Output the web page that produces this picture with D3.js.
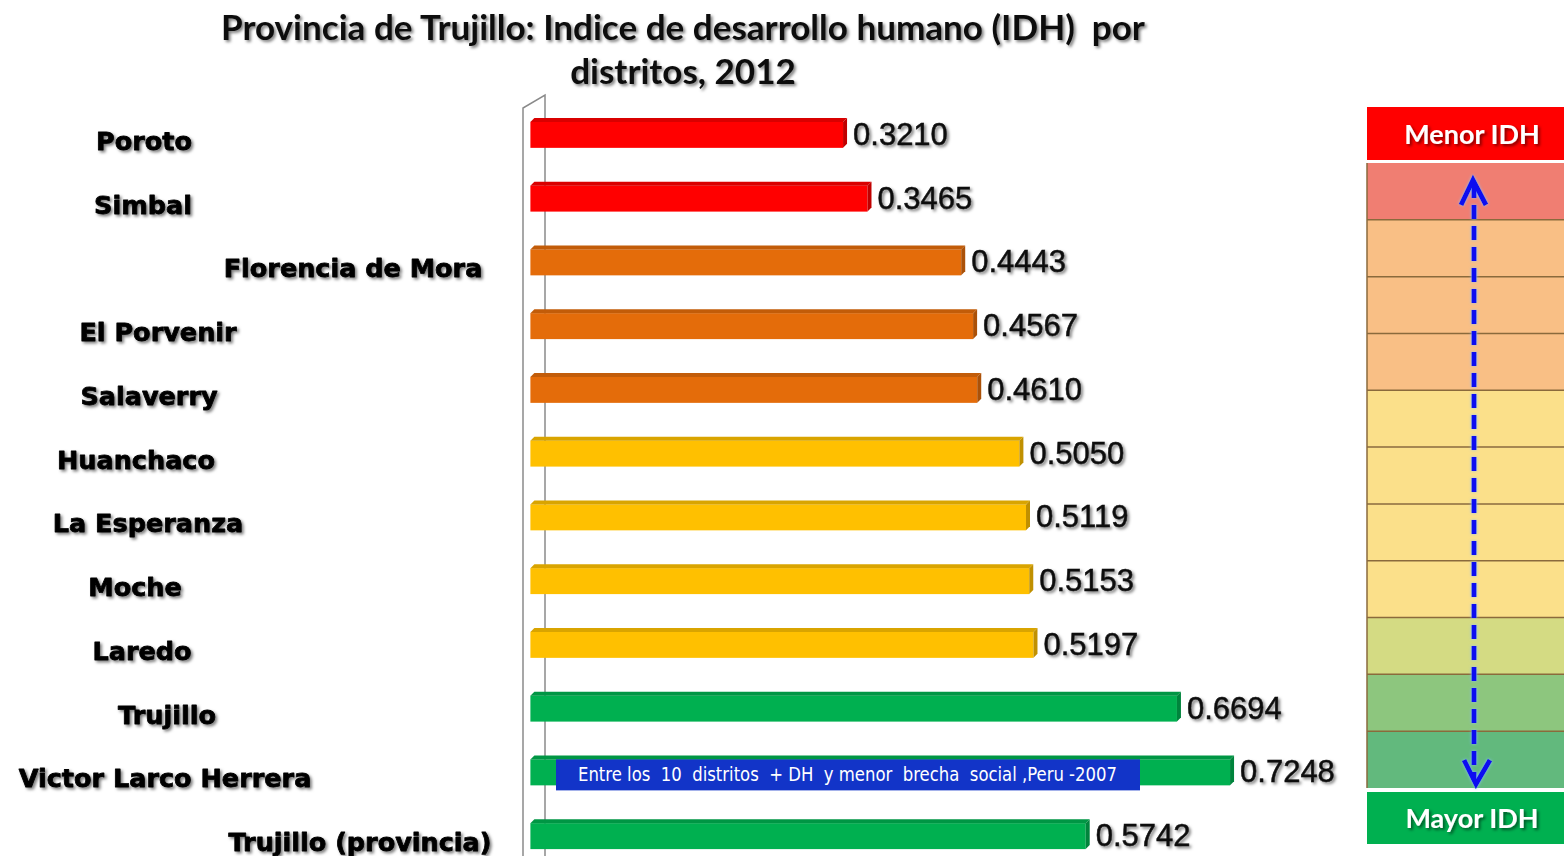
<!DOCTYPE html>
<html>
<head>
<meta charset="utf-8">
<script src="https://cdn.jsdelivr.net/npm/d3@7"></script>
<style>
  html, body { margin: 0; padding: 0; background: #fff; }
  svg { display: block; }
  text { white-space: pre; }
</style>
</head>
<body>
<svg id="chart" width="1564" height="856"></svg>
<script>
// ---------------- DATA ----------------
const districts = ["Poroto", "Simbal", "Florencia de Mora", "El Porvenir", "Salaverry",
  "Huanchaco", "La Esperanza", "Moche", "Laredo", "Trujillo",
  "Victor Larco Herrera", "Trujillo (provincia)"];
const idh = [0.3210, 0.3465, 0.4443, 0.4567, 0.4610, 0.5050, 0.5119, 0.5153, 0.5197,
  0.6694, 0.7248, 0.5742];
const tiers = ["bajo", "bajo", "medio-bajo", "medio-bajo", "medio-bajo", "medio", "medio",
  "medio", "medio", "alto", "alto", "alto"];
const tierNames = ["bajo", "medio-bajo", "medio", "alto"];
const tierColors = ["#FF0000", "#E46C0A", "#FFC000", "#00B050"];
const legendColors = ["#F07E72", "#F9BF85", "#F9BF85", "#F9BF85", "#FBE08A", "#FBE08A",
  "#FBE08A", "#FBE08A", "#D4DB83", "#8DC67E", "#62B97D"];
const legendEnds = ["Menor IDH", "Mayor IDH"];
const titleLines = ["Provincia de Trujillo: Indice de desarrollo humano (IDH)  por", "distritos, 2012"];
const annotation = "Entre los  10  distritos  + DH  y menor  brecha  social ,Peru -2007";
const annotated = "Victor Larco Herrera";

// ---------------- LAYOUT ----------------
const labelCenterX = [144, 143, 353, 158, 149, 136, 148, 135, 142, 167, 165, 360];

const svg = d3.select("#chart");
const defs = svg.append("defs");
const f = defs.append("filter").attr("id", "shadow").attr("x", "-10%").attr("y", "-30%")
  .attr("width", "130%").attr("height", "170%");
f.append("feDropShadow").attr("dx", 2).attr("dy", 2).attr("stdDeviation", 1.8)
  .attr("flood-color", "#000").attr("flood-opacity", 0.5);
const g2 = defs.append("filter").attr("id", "glow").attr("x", "-50%").attr("y", "-5%")
  .attr("width", "200%").attr("height", "110%");
g2.append("feDropShadow").attr("dx", 0).attr("dy", 0).attr("stdDeviation", 1.5)
  .attr("flood-color", "#88c0ff").attr("flood-opacity", 0.9);

const x = d3.scaleLinear().domain([0, 1]).range([535.4, 1493.8]);
const y = d3.scaleBand().domain(districts).range([101, 866]).paddingInner(0.53).paddingOuter(0.265);
const color = d3.scaleOrdinal().domain(tierNames).range(tierColors);

// Title
const title = svg.append("g").attr("filter", "url(#shadow)");
title.selectAll("text").data(titleLines).join("text")
  .attr("x", 683).attr("y", (d, i) => 40 + i * 44)
  .attr("text-anchor", "middle")
  .style("font-family", "Lato, 'Open Sans', sans-serif")
  .style("font-weight", 700)
  .style("font-size", "30px")
  .attr("fill", "#111")
  .text(d => d);
{
  const t = title.select("text").node();
  const w = t.getComputedTextLength();
  const fs = 30 * 924 / w;
  title.selectAll("text").style("font-size", fs + "px");
}

// 3D wall (category axis)
const wall = svg.append("g").attr("fill", "none").attr("stroke", "#8a8a8a").attr("stroke-width", 1.5);
wall.append("path").attr("d", d3.line()([[523, 856], [523, 108], [545, 95], [545, 856]]));

// Bars
const D = 4;
const bars = svg.append("g").selectAll("g").data(districts).join("g");
bars.each(function (d, i) {
  const g = d3.select(this);
  const c = color(tiers[i]);
  const x0 = x(0) - 5, xe = x(idh[i]);
  const y0 = y(d), h = y.bandwidth();
  const dark = d3.color(c).darker(0.8).formatHex();
  const mid = d3.color(c).darker(0.45).formatHex();
  g.append("rect").attr("x", x0).attr("y", y0 + D).attr("width", xe - x0).attr("height", h - D).attr("fill", c);
  g.append("path").attr("d", d3.line()([[x0, y0 + D], [x0 + D, y0], [xe + D, y0], [xe, y0 + D]]) + "Z")
    .attr("fill", mid);
  g.append("path").attr("d", d3.line()([[xe, y0 + D], [xe + D, y0], [xe + D, y0 + h - D], [xe, y0 + h]]) + "Z")
    .attr("fill", dark);
});

// value labels
svg.append("g").attr("filter", "url(#shadow)").selectAll("text").data(districts).join("text")
  .attr("x", (d, i) => x(idh[i]) + 10)
  .attr("y", d => y(d) + y.bandwidth() / 2 + 12)
  .style("font-family", "'Liberation Sans', Arial, sans-serif")
  .style("font-size", "31px")
  .attr("fill", "#111").attr("stroke", "#111").attr("stroke-width", 0.5)
  .text((d, i) => idh[i].toFixed(4));

// category labels
svg.append("g").attr("filter", "url(#shadow)").selectAll("text").data(districts).join("text")
  .attr("x", (d, i) => labelCenterX[i])
  .attr("y", d => y(d) + y.bandwidth() / 2 + 17)
  .attr("text-anchor", "middle")
  .style("font-family", "'DejaVu Sans', sans-serif")
  .style("font-weight", 700)
  .style("font-size", "25.5px")
  .attr("fill", "#000").attr("stroke", "#000").attr("stroke-width", 0.8)
  .attr("stroke-linejoin", "round")
  .text(d => d);

// annotation box
{
  const yc = y(annotated) + y.bandwidth() / 2;
  svg.append("rect").attr("x", 556).attr("y", yc - 11).attr("width", 584).attr("height", 31)
    .attr("fill", "#1234C8");
  svg.append("text").attr("x", 578).attr("y", yc + 11)
    .attr("textLength", 539).attr("lengthAdjust", "spacingAndGlyphs")
    .style("font-family", "'Liberation Sans Narrow', 'DejaVu Sans Condensed', 'Liberation Sans', sans-serif")
    .style("font-size", "20px")
    .attr("fill", "#fff")
    .text(annotation);
}

// Legend scale on the right
const lx = 1367, lw = 200;
const ly = d3.scaleBand().domain(d3.range(legendColors.length)).range([163, 788]);
const leg = svg.append("g");
leg.selectAll("rect.cell").data(legendColors).join("rect").attr("class", "cell")
  .attr("x", lx).attr("y", (d, i) => ly(i)).attr("width", lw).attr("height", ly.bandwidth())
  .attr("fill", d => d);
leg.selectAll("line.div").data(d3.range(1, legendColors.length)).join("line").attr("class", "div")
  .attr("x1", lx).attr("x2", lx + lw).attr("y1", d => ly(d)).attr("y2", d => ly(d))
  .attr("stroke", "#8a6a3c").attr("stroke-width", 1.5);
leg.append("line").attr("x1", lx).attr("x2", lx).attr("y1", 163).attr("y2", 788)
  .attr("stroke", "#8a6a3c").attr("stroke-width", 1.5);

const ends = [{ y: 107, h: 53, c: tierColors[0] }, { y: 792, h: 52, c: tierColors[3] }];
ends.forEach((e, i) => {
  leg.append("rect").attr("x", lx).attr("y", e.y).attr("width", lw).attr("height", e.h).attr("fill", e.c);
  leg.append("text").attr("x", 1472).attr("y", e.y + e.h / 2 + 10)
    .attr("text-anchor", "middle")
    .attr("filter", "url(#shadow)")
    .style("font-family", "Lato, 'Open Sans', sans-serif")
    .style("font-weight", 700)
    .style("font-size", "27px")
    .attr("fill", "#fff")
    .text(legendEnds[i]);
});

// dashed double arrow
const arr = leg.append("g").attr("filter", "url(#glow)").attr("stroke", "#1010F0")
  .attr("stroke-width", 5).attr("fill", "none");
arr.append("line").attr("x1", 1474).attr("x2", 1474).attr("y1", 184).attr("y2", 780)
  .attr("stroke-dasharray", "14,7");
arr.append("path").attr("d", d3.line()([[1461, 205], [1473, 180], [1486, 205]]))
  .attr("stroke-linejoin", "miter");
arr.append("path").attr("d", d3.line()([[1464, 760], [1476, 784], [1490, 760]]))
  .attr("stroke-linejoin", "miter");
</script>
</body>
</html>
